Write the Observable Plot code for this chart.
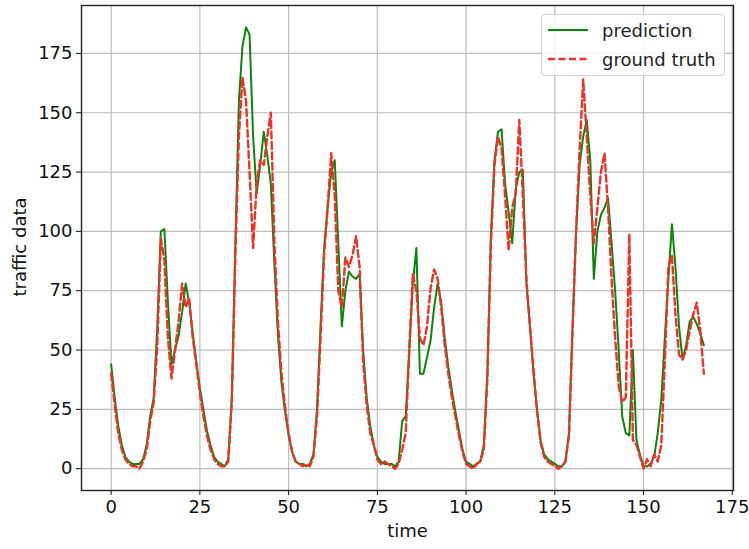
<!DOCTYPE html>
<html><head><meta charset="utf-8">
<script src="https://cdn.jsdelivr.net/npm/d3@7"></script>
<script src="https://cdn.jsdelivr.net/npm/@observablehq/plot@0.6"></script>
<style>
body{margin:0;background:#fff;}
#wrap{position:relative;width:749px;height:549px;font-family:"DejaVu Sans",sans-serif;}
.legend{position:absolute;left:541px;top:14px;width:184px;height:62px;border:1px solid #d0d0d0;border-radius:4px;background:rgba(255,255,255,0.85);box-sizing:border-box;}
.legend .row{position:absolute;left:6px;height:24px;display:flex;align-items:center;font-size:18px;color:#222;}
.legend svg{margin-right:14px;}
.ylab{position:absolute;left:19px;top:247px;transform:translate(-50%,-50%) rotate(-90deg);white-space:nowrap;font-size:18px;color:#111;}
</style></head><body><div id="wrap"></div>
<script>
const seriesNames = ["prediction", "ground truth"];
const xLabel = "time";
const yLabel = "traffic data";
const xTicks = [0, 25, 50, 75, 100, 125, 150, 175];
const yTicks = [0, 25, 50, 75, 100, 125, 150, 175];

const prediction = [
 44,30,18,10,5,3,2,2,2,4, 10,22,30,60,100,101,70,44,50,56,
 66,78,70,57,45,34,25,16,10,5, 3,2,1,4,30,95,155,178,186,183,
 140,116,128,142,132,120,86,56,36,24, 14,7,3,2,2,1,2,6,25,60,
 93,110,125,130,95,60,75,83,81,80, 82,50,30,18,10,5,3,2,2,2,
 1,3,20,22,50,78,93,40,40,47, 54,68,78,70,55,43,33,24,16,8,
 3,2,1,2,3,10,40,98,130,142, 143,120,108,95,118,125,126,78,60,40,
 25,12,6,4,3,2,1,1,3,15, 60,100,128,140,147,130,80,100,107,110,
 114,95,75,50,22,15,14,50,12,6, 1,1,2,5,15,29,55,80,103,85,
 60,46,52,62,64,61,57,52
];
const groundTruth = [
 40,27,15,8,4,2,1,1,0,3, 8,20,28,52,97,88,55,38,50,62,
 78,68,72,55,44,32,22,14,8,4, 2,1,1,3,28,90,140,165,155,125,
 93,120,130,128,140,150,95,62,40,26, 15,7,3,2,1,2,1,5,22,55,
 90,110,133,115,75,68,89,85,90,98, 85,45,27,15,10,4,2,3,2,1,
 0,2,8,15,50,82,75,55,52,60, 76,84,80,68,52,40,30,22,14,7,
 2,1,0,2,3,8,38,95,128,140, 135,115,92,110,116,147,115,80,60,42,
 24,11,5,3,2,1,0,1,3,14, 58,100,135,164,140,115,95,110,125,133,
 110,80,55,35,28,30,99,12,10,5, 0,4,1,6,3,10,45,85,90,65,
 48,46,50,58,65,70,58,40
];

const predRows = prediction.map((v, i) => ({t: i, v}));
const truthRows = groundTruth.map((v, i) => ({t: i, v}));

const chart = Plot.plot({
  width: 749, height: 549,
  marginLeft: 81, marginRight: 16, marginTop: 5, marginBottom: 59,
  style: {fontFamily: "DejaVu Sans", fontSize: "18px", background: "#fff", color: "#111"},
  x: {domain: [-8.35, 175.35]},
  y: {domain: [-9.2, 195.2]},
  marks: [
    Plot.gridX(xTicks, {stroke: "#bdbdbd", strokeOpacity: 1, strokeWidth: 1.2}),
    Plot.gridY(yTicks, {stroke: "#bdbdbd", strokeOpacity: 1, strokeWidth: 1.2}),
    Plot.line(predRows, {x: "t", y: "v", stroke: "#0b850b", strokeWidth: 2}),
    Plot.line(truthRows, {x: "t", y: "v", stroke: "#ec3326", strokeWidth: 2.4, strokeDasharray: "7,3.5"}),
    Plot.frame({stroke: "#222", strokeWidth: 1.4}),
    Plot.axisX(xTicks, {tickSize: 5, tickPadding: 5, label: null, fontSize: 18}),
    Plot.axisY(yTicks, {tickSize: 5, tickPadding: 4, label: null, fontSize: 18}),
    Plot.text([xLabel], {text: d => d, frameAnchor: "bottom", dy: 46, fontSize: 18})
  ]
});
const wrap = document.getElementById("wrap");
wrap.appendChild(chart);

const ylab = document.createElement("div");
ylab.className = "ylab";
ylab.textContent = yLabel;
wrap.appendChild(ylab);

const legend = document.createElement("div");
legend.className = "legend";
const styles = [
  {stroke: "#0b850b", dash: "none", w: 2},
  {stroke: "#ec3326", dash: "7,3.5", w: 2.4}
];
seriesNames.forEach((name, i) => {
  const row = document.createElement("div");
  row.className = "row";
  row.style.top = (3 + i * 29) + "px";
  const s = styles[i];
  row.innerHTML = `<svg width="40" height="10"><line x1="0" y1="5" x2="40" y2="5" stroke="${s.stroke}" stroke-width="${s.w}" stroke-dasharray="${s.dash}"/></svg><span>${name}</span>`;
  legend.appendChild(row);
});
wrap.appendChild(legend);
</script>
</body></html>
